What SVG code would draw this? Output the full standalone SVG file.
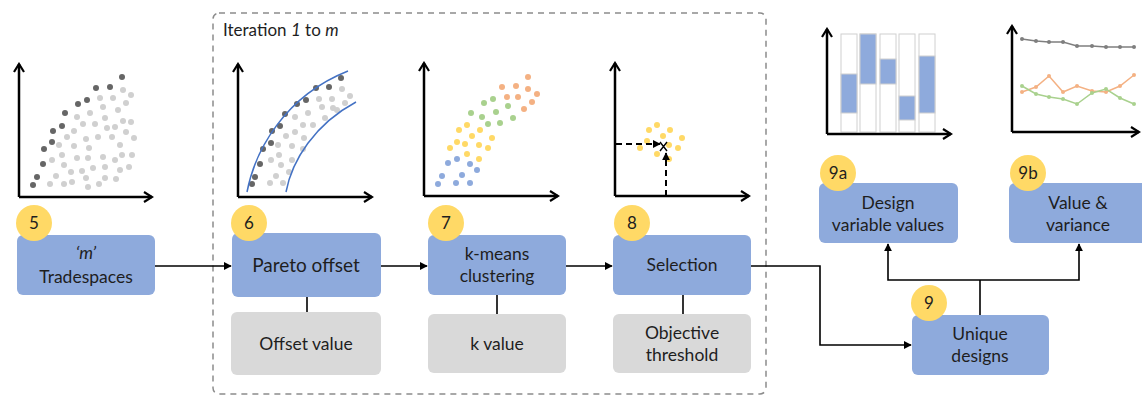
<svg xmlns="http://www.w3.org/2000/svg" width="1142" height="396" viewBox="0 0 1142 396">
<defs>
<marker id="ah" viewBox="0 0 10 10" refX="9" refY="5" markerWidth="8" markerHeight="8" markerUnits="userSpaceOnUse" orient="auto"><path d="M0,0 L10,5 L0,10 z" fill="#000"/></marker>
<marker id="axh" viewBox="0 0 12 12" refX="10" refY="6" markerWidth="12" markerHeight="12" markerUnits="userSpaceOnUse" orient="auto"><path d="M2,1 L10,6 L2,11" fill="none" stroke="#000" stroke-width="2.2"/></marker>
</defs>
<style>
.blue{fill:#8eaadc}
.gray{fill:#d9d9d9}
.badge{fill:#ffd966}
.t{font-family:Lato,"Open Sans","Liberation Sans",sans-serif;font-size:17.5px;fill:#1e1e1e;text-anchor:middle}
.lg{font-size:19px}
.n{font-family:Lato,"Open Sans","Liberation Sans",sans-serif;font-size:17px;fill:#1e1e1e;text-anchor:middle}
.axis{fill:none;stroke:#000;stroke-width:2.5;marker-end:url(#axh)}
.con{fill:none;stroke:#000;stroke-width:1.6}
.arr{marker-end:url(#ah)}
.dk{fill:#666}
.lt{fill:#d0d0d0}
.cb{fill:#8eaadc}
.cy{fill:#ffd966}
.cg{fill:#a9d18e}
.co{fill:#f4b183}
</style>
<rect x="213" y="13" width="553" height="381" rx="6" fill="none" stroke="#8c8c8c" stroke-width="1.5" stroke-dasharray="6,5"/>
<text class="t" x="223" y="36" style="text-anchor:start;font-size:17px">Iteration <tspan font-style="italic">1</tspan> to <tspan font-style="italic">m</tspan></text>

<g id="chart1">
<path class="axis" d="M19,197 L19,64"/><path class="axis" d="M19,197 L152,197"/>
<g class="lt">
<circle cx="50" cy="184" r="3"/><circle cx="64" cy="184" r="3"/><circle cx="72" cy="182" r="3"/><circle cx="88" cy="187" r="3"/><circle cx="99" cy="184" r="3"/><circle cx="116" cy="179" r="3"/><circle cx="56" cy="176" r="3"/><circle cx="71" cy="172" r="3"/><circle cx="86" cy="178" r="3"/><circle cx="82" cy="171" r="3"/><circle cx="105" cy="178" r="3"/><circle cx="64" cy="165" r="3"/><circle cx="77" cy="158" r="3"/><circle cx="88" cy="158" r="3"/><circle cx="93" cy="168" r="3"/><circle cx="105" cy="167" r="3"/><circle cx="120" cy="170" r="3"/><circle cx="129" cy="167" r="3"/><circle cx="52" cy="160" r="3"/><circle cx="62" cy="155" r="3"/><circle cx="74" cy="146" r="3"/><circle cx="89" cy="148" r="3"/><circle cx="103" cy="157" r="3"/><circle cx="115" cy="160" r="3"/><circle cx="122" cy="155" r="3"/><circle cx="132" cy="155" r="3"/><circle cx="59" cy="145" r="3"/><circle cx="67" cy="137" r="3"/><circle cx="86" cy="139" r="3"/><circle cx="98" cy="137" r="3"/><circle cx="112" cy="137" r="3"/><circle cx="120" cy="145" r="3"/><circle cx="134" cy="138" r="3"/><circle cx="74" cy="131" r="3"/><circle cx="83" cy="124" r="3"/><circle cx="95" cy="124" r="3"/><circle cx="107" cy="128" r="3"/><circle cx="115" cy="127" r="3"/><circle cx="126" cy="132" r="3"/><circle cx="77" cy="117" r="3"/><circle cx="90" cy="113" r="3"/><circle cx="105" cy="118" r="3"/><circle cx="118" cy="110" r="3"/><circle cx="123" cy="121" r="3"/><circle cx="131" cy="122" r="3"/><circle cx="100" cy="98" r="3"/><circle cx="103" cy="107" r="3"/><circle cx="113" cy="98" r="3"/><circle cx="126" cy="103" r="3"/><circle cx="123" cy="90" r="3"/><circle cx="131" cy="95" r="3"/>
</g>
<g class="dk">
<circle cx="33" cy="185" r="3"/><circle cx="37" cy="177" r="3"/><circle cx="43" cy="164" r="3"/><circle cx="44" cy="149" r="3"/><circle cx="52" cy="142" r="3"/><circle cx="53" cy="131" r="3"/><circle cx="62" cy="126" r="3"/><circle cx="65" cy="113" r="3"/><circle cx="78" cy="104" r="3"/><circle cx="87" cy="100" r="3"/><circle cx="96" cy="88" r="3"/><circle cx="110" cy="87" r="3"/><circle cx="122" cy="77" r="3"/>
</g>
</g>

<g id="chart2">
<path class="axis" d="M238,197 L238,64"/><path class="axis" d="M238,197 L372,197"/>
<g class="lt">
<circle cx="270" cy="183" r="3"/><circle cx="283" cy="183" r="3"/><circle cx="276" cy="176" r="3"/><circle cx="289" cy="172" r="3"/><circle cx="281" cy="165" r="3"/><circle cx="292" cy="160" r="3"/><circle cx="271" cy="160" r="3"/><circle cx="279" cy="155" r="3"/><circle cx="292" cy="146" r="3"/><circle cx="303" cy="149" r="3"/><circle cx="278" cy="145" r="3"/><circle cx="286" cy="136" r="3"/><circle cx="295" cy="132" r="3"/><circle cx="304" cy="138" r="3"/><circle cx="303" cy="125" r="3"/><circle cx="313" cy="125" r="3"/><circle cx="295" cy="117" r="3"/><circle cx="308" cy="113" r="3"/><circle cx="325" cy="118" r="3"/><circle cx="322" cy="107" r="3"/><circle cx="333" cy="108" r="3"/><circle cx="319" cy="99" r="3"/><circle cx="332" cy="99" r="3"/><circle cx="337" cy="110" r="3"/><circle cx="345" cy="103" r="3"/><circle cx="342" cy="89" r="3"/><circle cx="350" cy="96" r="3"/>
</g>
<g class="dk">
<circle cx="252" cy="184" r="3"/><circle cx="255" cy="177" r="3"/><circle cx="260" cy="164" r="3"/><circle cx="263" cy="149" r="3"/><circle cx="271" cy="143" r="3"/><circle cx="272" cy="131" r="3"/><circle cx="280" cy="126" r="3"/><circle cx="285" cy="114" r="3"/><circle cx="297" cy="104" r="3"/><circle cx="306" cy="100" r="3"/><circle cx="316" cy="88" r="3"/><circle cx="329" cy="87" r="3"/><circle cx="341" cy="78" r="3"/>
</g>
<path d="M247,192 C255,150 285,96 348,71" fill="none" stroke="#4472c4" stroke-width="1.5"/>
<path d="M286,192 C292,160 315,124 356,102" fill="none" stroke="#4472c4" stroke-width="1.5"/>
</g>

<g id="chart3">
<path class="axis" d="M424,196 L424,63"/><path class="axis" d="M424,196 L558,196"/>
<g class="cb">
<circle cx="438" cy="184" r="3"/><circle cx="442" cy="176" r="3"/><circle cx="456" cy="183" r="3"/><circle cx="462" cy="175" r="3"/><circle cx="470" cy="183" r="3"/><circle cx="448" cy="163" r="3"/><circle cx="457" cy="159" r="3"/><circle cx="470" cy="164" r="3"/><circle cx="477" cy="170" r="3"/>
</g>
<g class="cy">
<circle cx="450" cy="148" r="3"/><circle cx="457" cy="142" r="3"/><circle cx="465" cy="144" r="3"/><circle cx="467" cy="154" r="3"/><circle cx="479" cy="159" r="3"/><circle cx="479" cy="145" r="3"/><circle cx="488" cy="148" r="3"/><circle cx="459" cy="130" r="3"/><circle cx="467" cy="125" r="3"/><circle cx="472" cy="136" r="3"/><circle cx="480" cy="130" r="3"/><circle cx="492" cy="138" r="3"/>
</g>
<g class="cg">
<circle cx="471" cy="113" r="3"/><circle cx="482" cy="117" r="3"/><circle cx="488" cy="124" r="3"/><circle cx="484" cy="103" r="3"/><circle cx="493" cy="99" r="3"/><circle cx="496" cy="112" r="3"/><circle cx="500" cy="123" r="3"/><circle cx="508" cy="106" r="3"/><circle cx="513" cy="118" r="3"/>
</g>
<g class="co">
<circle cx="502" cy="87" r="3"/><circle cx="516" cy="86" r="3"/><circle cx="507" cy="97" r="3"/><circle cx="518" cy="97" r="3"/><circle cx="528" cy="77" r="3"/><circle cx="528" cy="89" r="3"/><circle cx="537" cy="94" r="3"/><circle cx="532" cy="102" r="3"/><circle cx="524" cy="109" r="3"/>
</g>
</g>

<g id="chart4">
<path class="axis" d="M615,196 L615,63"/><path class="axis" d="M615,196 L749,196"/>
<g class="cy">
<circle cx="649" cy="130" r="3"/><circle cx="657" cy="125" r="3"/><circle cx="670" cy="130" r="3"/><circle cx="682" cy="138" r="3"/><circle cx="647" cy="141" r="3"/><circle cx="663" cy="136" r="3"/><circle cx="640" cy="148" r="3"/><circle cx="657" cy="154" r="3"/><circle cx="669" cy="145" r="3"/><circle cx="678" cy="148" r="3"/><circle cx="669" cy="159" r="3"/>
</g>
<path d="M616,144 L660,144" fill="none" stroke="#000" stroke-width="2" stroke-dasharray="6,4" marker-end="url(#ah)"/>
<path d="M666,196 L666,153" fill="none" stroke="#000" stroke-width="2" stroke-dasharray="6,4" marker-end="url(#ah)"/>
<path d="M660,142 L667,151 M667,142 L660,151" stroke="#000" stroke-width="1.4"/>
</g>

<g id="chart5">
<g fill="#fff" stroke="#d0d0d0" stroke-width="1">
<rect x="841" y="34" width="16" height="98"/><rect x="860" y="34" width="16" height="98"/><rect x="880" y="34" width="16" height="98"/><rect x="899" y="34" width="16" height="98"/><rect x="919" y="34" width="16" height="98"/>
</g>
<g class="cb" stroke="#d0d0d0" stroke-width="1">
<rect x="841" y="74" width="16" height="39"/><rect x="860" y="34" width="16" height="50"/><rect x="880" y="59" width="16" height="25"/><rect x="899" y="96" width="16" height="24"/><rect x="919" y="56" width="16" height="57"/>
</g>
<path class="axis" d="M827,134 L827,29"/><path class="axis" d="M827,134 L951,134"/>
</g>

<g id="chart6">
<path class="axis" d="M1012,132 L1012,26"/><path class="axis" d="M1012,132 L1139,132"/>
<polyline points="1022,39 1036,41 1049,42 1063,42 1077,46 1092,46 1106,47 1120,47 1134,47" fill="none" stroke="#7f7f7f" stroke-width="1.5"/>
<polyline points="1022,92 1036,87 1049,76 1063,92 1077,86 1092,91 1106,92 1120,86 1134,75" fill="none" stroke="#f4b183" stroke-width="1.5"/>
<polyline points="1022,86 1036,94 1049,97 1063,99 1077,104 1092,93 1106,89 1120,98 1134,104" fill="none" stroke="#a9d18e" stroke-width="1.5"/>
<g fill="#7f7f7f"><circle cx="1022" cy="39" r="2"/><circle cx="1036" cy="41" r="2"/><circle cx="1049" cy="42" r="2"/><circle cx="1063" cy="42" r="2"/><circle cx="1077" cy="46" r="2"/><circle cx="1092" cy="46" r="2"/><circle cx="1106" cy="47" r="2"/><circle cx="1120" cy="47" r="2"/><circle cx="1134" cy="47" r="2"/></g>
<g fill="#f4b183"><circle cx="1022" cy="92" r="2"/><circle cx="1036" cy="87" r="2"/><circle cx="1049" cy="76" r="2"/><circle cx="1063" cy="92" r="2"/><circle cx="1077" cy="86" r="2"/><circle cx="1092" cy="91" r="2"/><circle cx="1106" cy="92" r="2"/><circle cx="1120" cy="86" r="2"/><circle cx="1134" cy="75" r="2"/></g>
<g fill="#a9d18e"><circle cx="1022" cy="86" r="2"/><circle cx="1036" cy="94" r="2"/><circle cx="1049" cy="97" r="2"/><circle cx="1063" cy="99" r="2"/><circle cx="1077" cy="104" r="2"/><circle cx="1092" cy="93" r="2"/><circle cx="1106" cy="89" r="2"/><circle cx="1120" cy="98" r="2"/><circle cx="1134" cy="104" r="2"/></g>
</g>

<g id="connectors">
<path class="con arr" d="M155,266 L231,266"/>
<path class="con arr" d="M381,266 L427,266"/>
<path class="con arr" d="M566,266 L612,266"/>
<path class="con arr" d="M751,266 L820,266 L820,345 L911,345"/>
<path class="con" d="M307,297 L307,312"/>
<path class="con" d="M497,295 L497,314"/>
<path class="con" d="M683,295 L683,314"/>
<path class="con" d="M980,315 L980,280"/>
<path class="con arr" d="M980,280 L888,280 L888,244"/>
<path class="con arr" d="M980,280 L1079,280 L1079,244"/>
</g>

<g id="node5">
<rect class="blue" x="17" y="235" width="138" height="60" rx="6"/>
<circle class="badge" cx="34" cy="223" r="18"/>
<text class="n" x="34" y="229">5</text>
<text class="t" x="86" y="259" font-style="italic">‘m’</text>
<text class="t" x="86" y="283">Tradespaces</text>
</g>
<g id="node6">
<rect class="blue" x="232" y="233" width="149" height="64" rx="6"/>
<circle class="badge" cx="249" cy="223" r="18"/>
<text class="n" x="249" y="229">6</text>
<text class="t lg" x="306" y="272">Pareto offset</text>
</g>
<g id="param6">
<rect class="gray" x="231" y="312" width="150" height="63" rx="6"/>
<text class="t" x="306" y="350">Offset value</text>
</g>
<g id="node7">
<rect class="blue" x="428" y="235" width="138" height="60" rx="6"/>
<circle class="badge" cx="446" cy="223" r="18"/>
<text class="n" x="446" y="229">7</text>
<text class="t" x="497" y="260">k-means</text>
<text class="t" x="497" y="282">clustering</text>
</g>
<g id="param7">
<rect class="gray" x="428" y="314" width="138" height="59" rx="6"/>
<text class="t" x="497" y="350">k value</text>
</g>
<g id="node8">
<rect class="blue" x="613" y="235" width="138" height="60" rx="6"/>
<circle class="badge" cx="632" cy="223" r="18"/>
<text class="n" x="632" y="229">8</text>
<text class="t" x="682" y="271">Selection</text>
</g>
<g id="param8">
<rect class="gray" x="613" y="314" width="138" height="59" rx="6"/>
<text class="t" x="682" y="339">Objective</text>
<text class="t" x="682" y="361">threshold</text>
</g>
<g id="node9">
<rect class="blue" x="912" y="315" width="137" height="60" rx="6"/>
<circle class="badge" cx="929" cy="303" r="18"/>
<text class="n" x="929" y="309">9</text>
<text class="t" x="980" y="340">Unique</text>
<text class="t" x="980" y="362">designs</text>
</g>
<g id="node9a">
<rect class="blue" x="819" y="183" width="139" height="60" rx="6"/>
<circle class="badge" cx="838" cy="173" r="18"/>
<text class="n" x="838" y="179">9a</text>
<text class="t" x="888" y="209">Design</text>
<text class="t" x="888" y="231">variable values</text>
</g>
<g id="node9b">
<rect class="blue" x="1009" y="183" width="140" height="60" rx="6"/>
<circle class="badge" cx="1028" cy="173" r="18"/>
<text class="n" x="1028" y="179">9b</text>
<text class="t" x="1078" y="209">Value &amp;</text>
<text class="t" x="1078" y="231">variance</text>
</g>
</svg>
